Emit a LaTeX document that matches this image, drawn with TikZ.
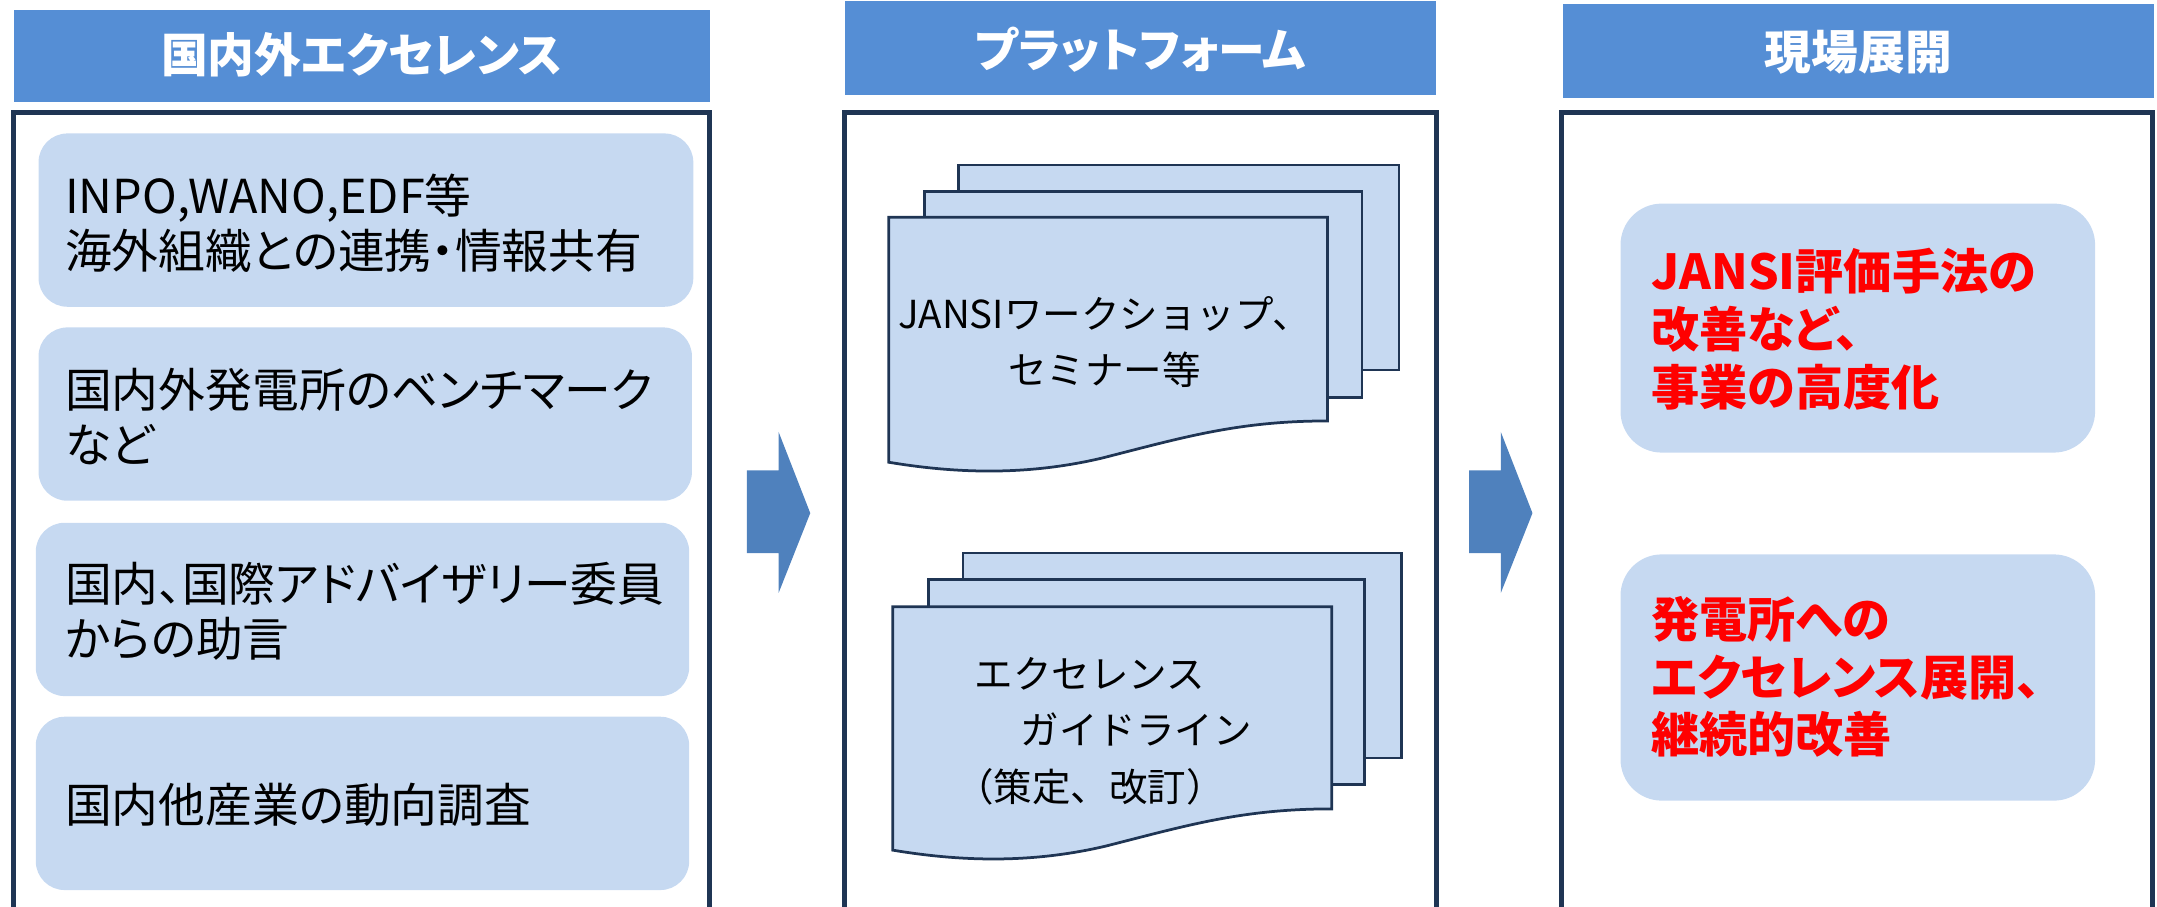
\documentclass[tikz,border=0pt]{standalone}
\usepackage{fontspec}
\setmainfont{Noto Sans CJK JP}
\newfontfamily\jpprop{Noto Sans CJK JP}[RawFeature=+palt]
\usepackage{tikz}
\definecolor{headblue}{RGB}{85,142,213}
\definecolor{boxblue}{RGB}{198,217,241}
\definecolor{framenavy}{RGB}{31,53,84}
\definecolor{arrowblue}{RGB}{79,129,189}

\begin{document}
\begin{tikzpicture}[x=0.5pt, y=0.5pt, yscale=-1, xscale=1,
  headbar/.style={fill=headblue},
  panelframe/.style={draw=framenavy, line width=1.8pt},
  itembox/.style={fill=boxblue, rounded corners=10.5pt},
  goalbox/.style={fill=boxblue, rounded corners=15pt},
  sheet/.style={draw=framenavy, fill=boxblue, line width=1pt},
  blockarrow/.style={fill=arrowblue},
  headtext/.style={text=white, inner sep=0pt, font=\jpprop\bfseries\fontsize{17}{20}\selectfont},
  itemtext/.style={anchor=west, inner sep=0pt, align=left, font=\jpprop\fontsize{17}{20}\selectfont},
  sheettext/.style={inner sep=0pt, font=\fontsize{14}{20.5}\selectfont},
  goaltext/.style={anchor=west, inner sep=0pt, align=left, text=red, font=\jpprop\bfseries\fontsize{17.5}{21}\selectfont}]
\useasboundingbox (0, 0) rectangle (1568, 659);
%Headers
\fill [headblue] (10, 7) rectangle (516, 74);
\fill [headblue] (614, 1) rectangle (1044, 69);
\fill [headblue] (1136, 3) rectangle (1566, 71);
\draw (263, 40) node [headtext] (head1) {国内外エクセレンス};
\draw (829, 36) node [headtext] (head2) {プラットフォーム};
\draw (1351, 38) node [headtext] (head3) {現場展開};
%Panels
\draw [panelframe] (10, 700) -- (10, 82) -- (516, 82) -- (516, 700);
\draw [panelframe] (614, 700) -- (614, 82) -- (1044, 82) -- (1044, 700);
\draw [panelframe] (1135, 700) -- (1135, 82) -- (1565, 82) -- (1565, 700);
%Left column
\fill [itembox] (28, 97) rectangle (504, 223);
\fill [itembox] (28, 238) rectangle (503, 364);
\fill [itembox] (26, 380) rectangle (501, 506);
\fill [itembox] (26, 521) rectangle (501, 647);
\draw (47, 162) node [itemtext] (src1) {INPO,WANO,EDF等\\海外組織との連携・情報共有};
\draw (47, 303) node [itemtext] (src2) {国内外発電所のベンチマーク\\など};
\draw (47, 444) node [itemtext] (src3) {国内、国際アドバイザリー委員\\からの助言};
\draw (47, 585) node [itemtext] (src4) {国内他産業の動向調査};
%Arrows
\fill [blockarrow] (543, 342) -- (566, 342) -- (566, 314) -- (589, 373) -- (566, 431) -- (566, 402) -- (543, 402) -- cycle;
\fill [blockarrow] (1068, 342) -- (1091, 342) -- (1091, 314) -- (1114, 373) -- (1091, 431) -- (1091, 402) -- (1068, 402) -- cycle;
%Middle column
\draw [sheet] (697, 120) rectangle (1017, 269);
\draw [sheet] (672, 139) rectangle (990, 289);
\draw [sheet] (646, 158) -- (965, 158) -- (965, 306) .. controls (900, 306) and (860, 318) .. (801, 333) .. controls (750, 345) and (700, 345) .. (646, 336) -- cycle;
\draw (803, 248.5) node [sheettext, align=center] (workshop) {JANSIワークショップ、\\セミナー等};
\draw [sheet] (700, 402) rectangle (1019, 551);
\draw [sheet] (675, 421) rectangle (992, 570);
\draw [sheet] (649, 441) -- (968, 441) -- (968, 588) .. controls (903, 588) and (863, 600) .. (804, 615) .. controls (753, 627) and (703, 627) .. (649, 618) -- cycle;
\draw (694, 531.5) node [sheettext, anchor=west, align=left] (guide) {\hspace*{0.5em}エクセレンス\\\hspace*{1.7em}ガイドライン\\（策定、改訂）};
%Right column
\fill [goalbox] (1178, 148) rectangle (1523, 329);
\fill [goalbox] (1178, 403) rectangle (1523, 582);
\draw (1200, 239.5) node [goaltext] (goal1) {JANSI評価手法の\\改善など、\\事業の高度化};
\draw (1200, 492) node [goaltext] (goal2) {発電所への\\エクセレンス展開、\\継続的改善};
\end{tikzpicture}
\end{document}
